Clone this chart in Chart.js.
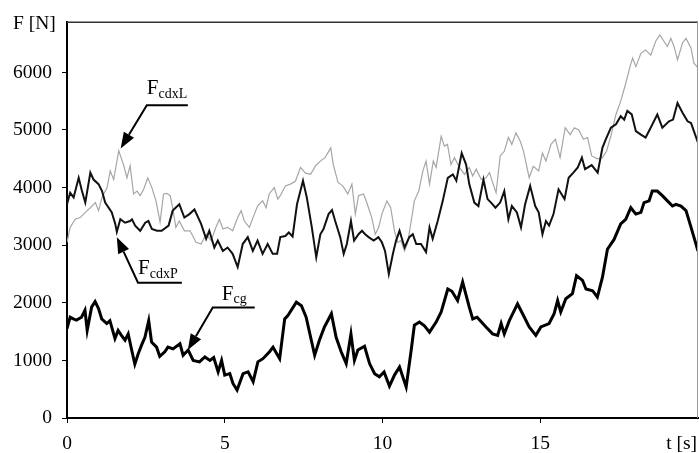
<!DOCTYPE html>
<html>
<head>
<meta charset="utf-8">
<script src="https://cdn.jsdelivr.net/npm/chart.js@4.4.1/dist/chart.umd.min.js"></script>
<style>
  html, body { margin: 0; padding: 0; background: #fff; }
  #wrap { width: 699px; height: 453px; }
</style>
</head>
<body>
<div id="wrap"><canvas id="c" width="699" height="453"></canvas></div>
<script>
// ---- data (t [s], F [N]) ----
const xTicks = [0, 5, 10, 15];
const yTicks = [0, 1000, 2000, 3000, 4000, 5000, 6000];

const fcg = [[0,1550],[0.1,1750],[0.2,1720],[0.3,1700],[0.46,1750],[0.57,1870],[0.64,1520],[0.78,1925],[0.89,2020],[1.0,1900],[1.1,1720],[1.26,1640],[1.36,1690],[1.52,1380],[1.62,1520],[1.73,1430],[1.84,1350],[1.94,1460],[2.05,1180],[2.15,935],[2.26,1120],[2.36,1260],[2.47,1400],[2.59,1690],[2.68,1320],[2.84,1230],[2.94,1070],[3.1,1150],[3.2,1230],[3.36,1200],[3.58,1290],[3.68,1090],[3.84,1180],[4.0,1000],[4.2,975],[4.37,1060],[4.53,1000],[4.65,1050],[4.79,800],[4.9,1000],[5.0,745],[5.16,770],[5.26,600],[5.39,485],[5.58,770],[5.74,800],[5.9,630],[6.05,975],[6.21,1030],[6.42,1150],[6.53,1230],[6.74,1030],[6.9,1720],[7.0,1780],[7.27,2010],[7.43,1950],[7.58,1750],[7.85,1090],[8.0,1350],[8.16,1580],[8.38,1810],[8.53,1400],[8.69,1150],[8.85,945],[9.0,1460],[9.11,1000],[9.22,1180],[9.43,1245],[9.59,945],[9.75,770],[9.9,715],[10.05,800],[10.22,555],[10.38,745],[10.54,885],[10.75,540],[10.91,1180],[11.01,1610],[11.17,1665],[11.33,1600],[11.49,1490],[11.7,1665],[11.86,1840],[12.07,2240],[12.2,2200],[12.38,2040],[12.54,2360],[12.75,1925],[12.86,1720],[13.0,1750],[13.28,1580],[13.49,1460],[13.65,1435],[13.76,1640],[13.86,1460],[14.02,1690],[14.28,1980],[14.44,1810],[14.65,1580],[14.86,1435],[15.02,1580],[15.28,1640],[15.44,1810],[15.55,2040],[15.65,1840],[15.81,2070],[16.02,2160],[16.15,2470],[16.34,2390],[16.45,2240],[16.66,2210],[16.81,2100],[16.97,2440],[17.13,2930],[17.34,3100],[17.55,3370],[17.71,3450],[17.87,3650],[18.03,3540],[18.19,3570],[18.29,3740],[18.45,3770],[18.55,3940],[18.71,3940],[18.87,3860],[19.03,3770],[19.19,3680],[19.3,3710],[19.46,3680],[19.62,3600],[19.78,3310],[20,2900]];

const fcdxP = [[0,3710],[0.1,3910],[0.21,3830],[0.37,4170],[0.47,3950],[0.58,3740],[0.74,4260],[0.84,4140],[1.0,4060],[1.11,3940],[1.21,3740],[1.42,3570],[1.53,3370],[1.58,3230],[1.69,3450],[1.84,3390],[2.0,3420],[2.06,3450],[2.16,3340],[2.32,3250],[2.48,3390],[2.58,3420],[2.69,3280],[2.85,3250],[3.0,3250],[3.22,3340],[3.35,3600],[3.56,3710],[3.72,3480],[3.88,3540],[4.04,3620],[4.25,3370],[4.41,3110],[4.51,3250],[4.67,2960],[4.78,3080],[4.94,2900],[5.09,2960],[5.25,2850],[5.41,2620],[5.57,3020],[5.73,3140],[5.89,2900],[6.04,3080],[6.2,2850],[6.36,3020],[6.52,2850],[6.66,2850],[6.76,3140],[6.92,3160],[7.03,3220],[7.15,3150],[7.29,3710],[7.48,4120],[7.6,3830],[7.76,3310],[7.9,2790],[8.03,3190],[8.13,3280],[8.29,3540],[8.4,3610],[8.5,3420],[8.66,3140],[8.77,2850],[8.87,3020],[9.0,3420],[9.1,3080],[9.24,3190],[9.35,3250],[9.45,3190],[9.56,3140],[9.72,3080],[9.87,3140],[9.98,3050],[10.08,2900],[10.2,2500],[10.33,2850],[10.43,3080],[10.54,3250],[10.7,2960],[10.85,3140],[10.96,3190],[11.07,3020],[11.22,3020],[11.38,2880],[11.49,3310],[11.59,3110],[11.75,3420],[11.91,3770],[12.07,4170],[12.23,4230],[12.34,4120],[12.51,4600],[12.65,4400],[12.75,4060],[12.91,3740],[13.04,3680],[13.2,4140],[13.33,3800],[13.44,3740],[13.58,3650],[13.73,3740],[13.86,3940],[13.99,3450],[14.1,3680],[14.26,3570],[14.39,3310],[14.52,3710],[14.68,4030],[14.84,3680],[14.95,3570],[15.07,3190],[15.18,3420],[15.28,3340],[15.42,3540],[15.58,3970],[15.77,3800],[15.9,4170],[16.05,4260],[16.19,4350],[16.32,4520],[16.42,4320],[16.63,4390],[16.82,4260],[16.97,4690],[17.08,4840],[17.24,5040],[17.4,5100],[17.55,5240],[17.66,5180],[17.76,5330],[17.9,5270],[18.03,4980],[18.19,4920],[18.34,4870],[18.5,5040],[18.71,5270],[18.87,5040],[19.08,5150],[19.21,5180],[19.35,5470],[19.51,5300],[19.67,5150],[19.78,5120],[20,4780]];

const fcdxL = [[0,3050],[0.1,3310],[0.26,3450],[0.42,3480],[0.58,3570],[0.74,3650],[0.9,3740],[1.0,3600],[1.11,3830],[1.27,4000],[1.37,4290],[1.48,4140],[1.64,4640],[1.79,4400],[1.9,4170],[2.0,4380],[2.11,3890],[2.22,3940],[2.32,3860],[2.43,3970],[2.56,4170],[2.69,4000],[2.82,3770],[2.95,3400],[3.06,3890],[3.16,3900],[3.27,3860],[3.35,3650],[3.45,3310],[3.56,3420],[3.72,3250],[3.9,3250],[4.09,3050],[4.25,3020],[4.41,3190],[4.57,3080],[4.72,3310],[4.83,3450],[4.94,3280],[5.09,3310],[5.25,3250],[5.41,3480],[5.52,3600],[5.62,3420],[5.78,3310],[5.94,3540],[6.04,3680],[6.2,3770],[6.31,3650],[6.41,3890],[6.57,4000],[6.68,3800],[6.76,3860],[6.92,4030],[7.08,4060],[7.24,4110],[7.4,4350],[7.56,4250],[7.72,4230],[7.88,4380],[8.03,4460],[8.18,4520],[8.36,4690],[8.44,4400],[8.59,4090],[8.74,4030],[8.9,3890],[9.03,4060],[9.14,3540],[9.24,3860],[9.4,3890],[9.5,3740],[9.66,3480],[9.77,3190],[9.88,3310],[9.98,3540],[10.14,3770],[10.26,3650],[10.38,3250],[10.48,3050],[10.58,3080],[10.7,2900],[10.8,3050],[10.91,3420],[11.01,3770],[11.15,3940],[11.28,4290],[11.38,4460],[11.49,4060],[11.61,4460],[11.7,4350],[11.86,4890],[11.96,4720],[12.06,4750],[12.17,4400],[12.28,4520],[12.44,4350],[12.6,4230],[12.75,4350],[12.86,4200],[12.97,4320],[13.13,4140],[13.28,4170],[13.39,4260],[13.49,4090],[13.6,3910],[13.73,4550],[13.86,4630],[13.99,4870],[14.1,4750],[14.23,4950],[14.37,4800],[14.47,4630],[14.65,4170],[14.78,4370],[14.95,4290],[15.07,4600],[15.18,4460],[15.34,4750],[15.48,4840],[15.63,4520],[15.79,5040],[15.95,4920],[16.08,5040],[16.22,5000],[16.37,4840],[16.5,4870],[16.63,4550],[16.81,4500],[16.97,4520],[17.1,4630],[17.24,4900],[17.4,5270],[17.55,5500],[17.7,5790],[17.86,6130],[17.93,6250],[18.03,6100],[18.19,6330],[18.34,6390],[18.5,6300],[18.66,6540],[18.79,6650],[18.92,6540],[19.03,6450],[19.14,6590],[19.24,6450],[19.35,6220],[19.51,6510],[19.62,6590],[19.78,6420],[19.87,6160],[20,6080]];

// annotation anchors in data units: arrow tip, elbow (start of underline), underline end
const labels = [
  { main: 'F', sub: 'cdxL', tip: [1.70, 4680], elbow: [2.53, 5430], end: [3.83, 5430], textDx: 0, fDy: -11, sDy: -7 },
  { main: 'F', sub: 'cdxP', tip: [1.58, 3140], elbow: [2.25, 2350], end: [3.64, 2350], textDx: 0, fDy: -9, sDy: -5 },
  { main: 'F', sub: 'cg',   tip: [3.83, 1180], elbow: [4.62, 1920], end: [5.95, 1920], textDx: 9, fDy: -7, sDy: -4 }
];

const toXY = arr => arr.map(p => ({ x: p[0], y: p[1] }));
const SERIF = '"Liberation Serif", "DejaVu Serif", serif';

const decor = {
  id: 'decor',
  beforeDraw(chart) {
    const ctx = chart.ctx;
    ctx.save();
    ctx.fillStyle = '#fff';
    ctx.fillRect(0, 0, chart.width, chart.height);
    ctx.restore();
  },
  afterDraw(chart) {
    const ctx = chart.ctx;
    const a = chart.chartArea;
    const xs = chart.scales.x, ys = chart.scales.y;
    ctx.save();
    // frame top & right
    ctx.strokeStyle = '#333';
    ctx.lineWidth = 1.5;
    ctx.beginPath();
    ctx.moveTo(a.left, a.top + 0.5);
    ctx.lineTo(a.right, a.top + 0.5);
    ctx.stroke();
    ctx.strokeStyle = '#999';
    ctx.lineWidth = 1;
    ctx.beginPath();
    ctx.moveTo(a.right - 0.5, a.top);
    ctx.lineTo(a.right - 0.5, a.bottom);
    ctx.stroke();

    // axis titles
    ctx.fillStyle = '#000';
    ctx.font = '19.5px ' + SERIF;
    ctx.textBaseline = 'alphabetic';
    ctx.textAlign = 'left';
    ctx.fillText('F [N]', 13, 29);
    ctx.textAlign = 'right';
    ctx.fillText('t [s]', 697, 449);

    // annotations
    labels.forEach(l => {
      const tx = xs.getPixelForValue(l.tip[0]), ty = ys.getPixelForValue(l.tip[1]);
      const ex = xs.getPixelForValue(l.elbow[0]), ey = ys.getPixelForValue(l.elbow[1]);
      const nx = xs.getPixelForValue(l.end[0]);
      ctx.strokeStyle = '#000';
      ctx.lineWidth = 2;
      ctx.beginPath();
      ctx.moveTo(nx, ey);
      ctx.lineTo(ex, ey);
      // shaft stops at arrow head base
      const ang = Math.atan2(ty - ey, tx - ex);
      const headLen = 16, headW = 6;
      const bx = tx - headLen * Math.cos(ang), by = ty - headLen * Math.sin(ang);
      ctx.lineTo(bx, by);
      ctx.stroke();
      ctx.fillStyle = '#000';
      ctx.beginPath();
      ctx.moveTo(tx, ty);
      ctx.lineTo(bx + headW * Math.sin(ang), by - headW * Math.cos(ang));
      ctx.lineTo(bx - headW * Math.sin(ang), by + headW * Math.cos(ang));
      ctx.closePath();
      ctx.fill();
      // text
      ctx.textAlign = 'left';
      ctx.textBaseline = 'alphabetic';
      ctx.font = '21px ' + SERIF;
      const fx = ex + l.textDx;
      ctx.fillText(l.main, fx, ey + l.fDy);
      const fw = ctx.measureText(l.main).width;
      ctx.font = '14px ' + SERIF;
      ctx.fillText(l.sub, fx + fw, ey + l.sDy);
    });
    ctx.restore();
  }
};

new Chart(document.getElementById('c'), {
  type: 'line',
  data: {
    datasets: [
      { label: 'Fcg', data: toXY(fcg), borderColor: '#000', borderWidth: 3, pointRadius: 0, tension: 0 },
      { label: 'FcdxP', data: toXY(fcdxP), borderColor: '#111', borderWidth: 2, pointRadius: 0, tension: 0 },
      { label: 'FcdxL', data: toXY(fcdxL), borderColor: '#a6a6a6', borderWidth: 1.2, pointRadius: 0, tension: 0 }
    ]
  },
  options: {
    responsive: false,
    animation: false,
    devicePixelRatio: 1,
    layout: { padding: { top: 20, right: 1, left: 0, bottom: 0 } },
    plugins: { legend: { display: false }, tooltip: { enabled: false } },
    scales: {
      x: {
        type: 'linear', min: 0, max: 20,
        afterBuildTicks: s => { s.ticks = xTicks.map(v => ({ value: v })); },
        afterFit: s => { s.height = 35; },
        grid: { display: true, drawOnChartArea: false, drawTicks: true, tickLength: 5, color: '#000', lineWidth: 1 },
        border: { display: true, color: '#000', width: 2 },
        ticks: { color: '#000', font: { family: SERIF, size: 19.5 }, padding: 9, maxRotation: 0, autoSkip: false, callback: v => String(v) }
      },
      y: {
        type: 'linear', min: 0, max: 6880,
        afterBuildTicks: s => { s.ticks = yTicks.map(v => ({ value: v })); },
        afterFit: s => { s.width = 67; },
        grid: { display: true, drawOnChartArea: false, drawTicks: true, tickLength: 5, color: '#000', lineWidth: 1 },
        border: { display: true, color: '#000', width: 2 },
        ticks: { color: '#000', font: { family: SERIF, size: 19.5 }, padding: 10, autoSkip: false, callback: v => String(v) }
      }
    }
  },
  plugins: [decor]
});
</script>
</body>
</html>
